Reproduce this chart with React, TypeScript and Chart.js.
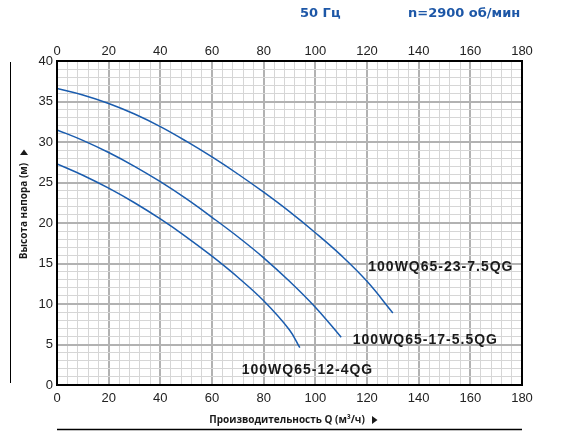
import React, { useEffect, useRef } from "react";
import { Chart, registerables } from "chart.js";

Chart.register(...registerables);

// ---- data ----
const seriesNames = ["100WQ65-23-7.5QG", "100WQ65-17-5.5QG", "100WQ65-12-4QG"];
const flow1 = [0, 10, 20, 30, 40, 50, 60, 70, 80, 90, 100, 110, 120, 130];
const head1 = [36.6, 35.8, 34.75, 33.45, 31.9, 30.1, 28.15, 26.05, 23.8, 21.4, 18.8, 16.0, 12.8, 8.9];
const flow2 = [0, 10, 20, 30, 40, 50, 60, 70, 80, 90, 100, 110];
const head2 = [31.5, 30.2, 28.7, 27.0, 25.1, 23.0, 20.7, 18.3, 15.7, 12.8, 9.6, 5.9];
const flow3 = [0, 10, 20, 30, 40, 50, 60, 70, 80, 90, 94];
const head3 = [27.3, 25.9, 24.3, 22.5, 20.5, 18.3, 15.9, 13.3, 10.4, 6.8, 4.6];
// label anchors in data units (flow, head)
const labelFlow = [120.5, 114.5, 71.5];
const labelHead = [14.1, 5.05, 1.35];

const xMin = 0, xMax = 180, xMajor = 20, xMinor = 4;
const yMin = 0, yMax = 40, yMajor = 5, yMinor = 1;

const freqTitle = "50 Гц";
const speedTitle = "n=2900 об/мин";
const xTitle = "Производительность Q (м³/ч)";
const yTitle = "Высота напора (м)";

const LINE_COLOR = "#1a5cae";
const TITLE_COLOR = "#1d57a7";
const MAJOR = "#b2b2b2";
const MINOR = "#d6d6d6";
const TICK_FONT = { family: '"Liberation Sans", Arial, sans-serif', size: 13 };

const toPoints = (xs: number[], ys: number[]) => xs.map((x, i) => ({ x, y: ys[i] }));

const annotPlugin = {
  id: "annot",
  afterDraw(chart: any) {
    const { ctx, chartArea: a, scales } = chart;
    ctx.save();
    // plot border
    ctx.strokeStyle = "#000";
    ctx.lineWidth = 2;
    ctx.strokeRect(a.left, a.top, a.right - a.left, a.bottom - a.top);

    // titles
    ctx.fillStyle = TITLE_COLOR;
    ctx.font = 'bold 13px "DejaVu Sans", sans-serif';
    ctx.textBaseline = "middle";
    ctx.textAlign = "left";
    ctx.fillText(freqTitle, 300, 14);
    ctx.fillText(speedTitle, 408, 14);

    // curve labels
    ctx.fillStyle = "#1a1a1a";
    ctx.font = 'bold 14px "Liberation Sans", Arial, sans-serif';
    (ctx as any).letterSpacing = "1px";
    ctx.textBaseline = "alphabetic";
    seriesNames.forEach((n, i) => {
      ctx.fillText(n, scales.x.getPixelForValue(labelFlow[i]), scales.y.getPixelForValue(labelHead[i]));
    });
    (ctx as any).letterSpacing = "0px";

    // axis titles
    ctx.fillStyle = "#1a1a1a";
    ctx.font = 'bold 10px "Open Sans", sans-serif';
    ctx.textAlign = "center";
    ctx.textBaseline = "middle";
    ctx.fillText(xTitle, 287, 420);
    // x arrow
    ctx.beginPath();
    ctx.moveTo(372, 416);
    ctx.lineTo(377.5, 420);
    ctx.lineTo(372, 424);
    ctx.closePath();
    ctx.fill();

    ctx.save();
    ctx.translate(24, 211);
    ctx.rotate(-Math.PI / 2);
    ctx.fillText(yTitle, 0, 0);
    ctx.restore();
    // y arrow
    ctx.beginPath();
    ctx.moveTo(20, 155);
    ctx.lineTo(24, 149.5);
    ctx.lineTo(28, 155);
    ctx.closePath();
    ctx.fill();

    // decorative rules
    ctx.strokeStyle = "#000";
    ctx.lineWidth = 1;
    ctx.beginPath();
    ctx.moveTo(10.5, 62);
    ctx.lineTo(10.5, 383);
    ctx.stroke();
    ctx.lineWidth = 1.5;
    ctx.beginPath();
    ctx.moveTo(57, 429.5);
    ctx.lineTo(522, 429.5);
    ctx.stroke();
    ctx.restore();
  },
};

export default function App() {
  const ref = useRef<HTMLCanvasElement | null>(null);
  useEffect(() => {
    if (!ref.current) return;
    const mk = (xs: number[], ys: number[], label: string) => ({
      label,
      data: toPoints(xs, ys),
      borderColor: LINE_COLOR,
      borderWidth: 1.5,
      pointRadius: 0,
      fill: false,
      tension: 0.4,
    });
    const chart = new Chart(ref.current, {
      type: "line",
      data: {
        datasets: [
          mk(flow1, head1, seriesNames[0]),
          mk(flow2, head2, seriesNames[1]),
          mk(flow3, head3, seriesNames[2]),
        ],
      },
      options: {
        responsive: false,
        animation: false,
        layout: { padding: { left: 0, top: 0, right: 45, bottom: 0 } },
        plugins: { legend: { display: false }, tooltip: { enabled: false }, title: { display: false } },
        scales: {
          x: {
            type: "linear",
            position: "bottom",
            min: xMin,
            max: xMax,
            afterFit: (s: any) => { s.height = 54; },
            ticks: {
              stepSize: xMinor,
              autoSkip: false,
              maxRotation: 0,
              padding: 6,
              color: "#222",
              font: TICK_FONT,
              callback: (v: any) => (Number(v) % xMajor === 0 ? String(v) : ""),
            },
            grid: {
              drawTicks: false,
              color: (c: any) => (c.tick && c.tick.value % xMajor === 0 ? MAJOR : MINOR),
              lineWidth: (c: any) => (c.tick && c.tick.value % xMajor === 0 ? 2 : 1),
            },
            border: { display: false },
          },
          x2: {
            type: "linear",
            position: "top",
            min: xMin,
            max: xMax,
            afterFit: (s: any) => { s.height = 61; },
            ticks: {
              stepSize: xMajor,
              autoSkip: false,
              maxRotation: 0,
              padding: 2,
              color: "#222",
              font: TICK_FONT,
            },
            grid: { display: false, drawTicks: false },
            border: { display: false },
          },
          y: {
            type: "linear",
            min: yMin,
            max: yMax,
            afterFit: (s: any) => { s.width = 57; },
            ticks: {
              stepSize: yMinor,
              autoSkip: false,
              padding: 4,
              color: "#222",
              font: TICK_FONT,
              callback: (v: any) => (Number(v) % yMajor === 0 ? String(v) : ""),
            },
            grid: {
              drawTicks: false,
              color: (c: any) => (c.tick && c.tick.value % yMajor === 0 ? MAJOR : MINOR),
              lineWidth: (c: any) => (c.tick && c.tick.value % yMajor === 0 ? 2 : 1),
            },
            border: { display: false },
          },
        },
      },
      plugins: [annotPlugin],
    } as any);
    return () => chart.destroy();
  }, []);
  return (
    <div style={{ position: "fixed", left: 0, top: 0, width: 567, height: 439, background: "#fff" }}>
      <canvas ref={ref} width={567} height={439} style={{ display: "block" }} />
    </div>
  );
}
